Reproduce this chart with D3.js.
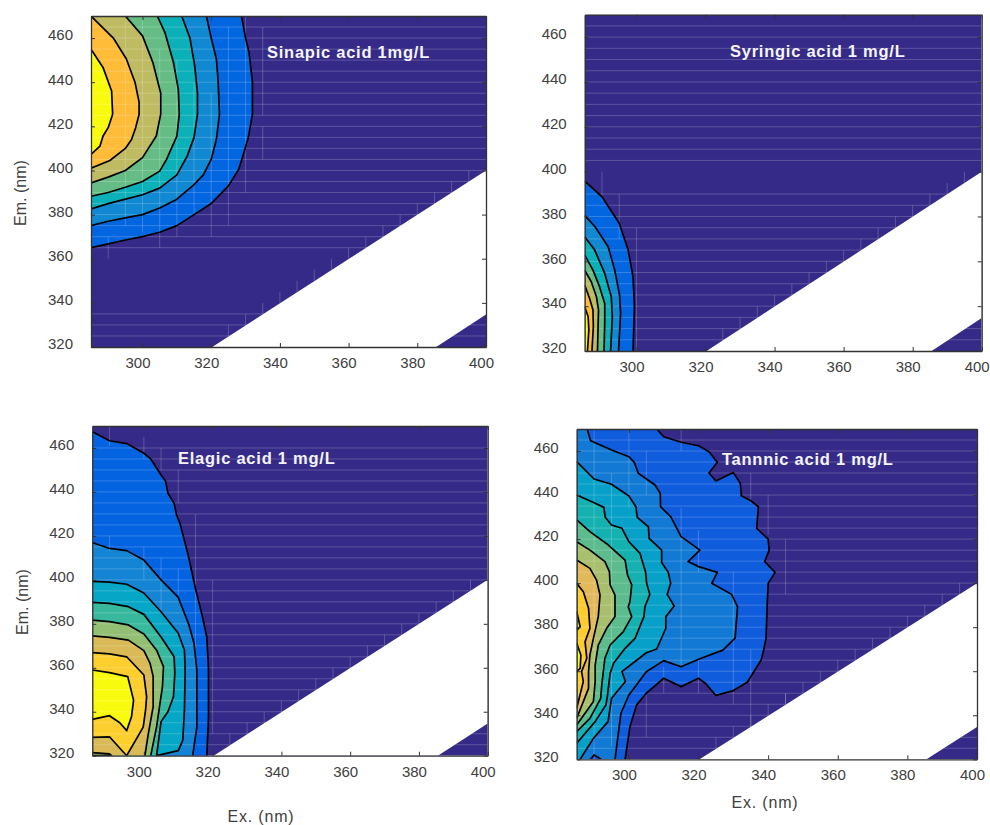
<!DOCTYPE html>
<html lang="en">
<head>
    <meta charset="UTF-8">
    <title>Excitation-emission contour maps</title>
    <style>
        body {
            margin: 0;
            background: #fff;
        }
        text {
            font-family: "Liberation Sans", Arial, sans-serif;
        }
    </style>
</head>
<body>
<script src="https://d3js.org/d3.v7.min.js"></script>
<script>

    var exTicks = [300, 320, 340, 360, 380, 400];
    var emTicks = [320, 340, 360, 380, 400, 420, 440, 460];

    // Rayleigh scatter band left empty in every panel
    var emptyBand = [[320.3, 320], [400, 400], [400, 334.7], [385.5, 320]];
    var stubEx = [325, 330, 335, 340, 345, 350, 355, 360, 365, 370, 375, 380, 385, 390, 395];

    var colors7 = ['#352a87', '#0366e1', '#1188d2', '#0cb0b8', '#65bd85', '#bfbb62', '#ffbc38', '#f9fb0e'];
    var colors8 = ['#352a87', '#0363e1', '#1485d4', '#06a7c6', '#38b99e', '#92bf73', '#d9ba56', '#fcce2e', '#f9fb0e'];
    var colors9 = ['#352a87', '#0f5cdd', '#1279d4', '#06a0c9', '#15b1b0', '#5cbc8e', '#a8bf6e', '#e2b95a', '#ffcc30', '#f9fb0e'];

    // Contour lines as [ex, em], one list per level, outermost first
    var sinapicLevels = [
        [[328.8, 470], [330, 460], [331, 453.5], [332, 440], [332, 425.5], [330.8, 415], [328.9, 405], [328, 400.5], [325, 393], [320, 385], [315, 380], [310, 375], [305, 372], [300, 370], [295, 368.5], [290, 366.7], [285, 365]],
        [[318.6, 470], [320, 460], [321.5, 450.5], [322, 441], [322.4, 425.5], [321.5, 414], [320, 405], [317.7, 398], [315, 393.6], [310, 387], [305, 383], [300, 380], [295, 378.5], [290, 377], [285, 375]],
        [[311.4, 470], [313.8, 460], [315.2, 447.4], [316, 435], [316, 425.5], [315, 415], [313, 406.5], [310, 398], [305, 392], [300, 389], [295, 387], [290, 385], [285, 382.6]],
        [[304.3, 470], [306.5, 462.6], [309, 449], [310.4, 437], [310.7, 425.5], [310, 415.6], [307, 405], [305, 399.7], [300, 395], [295, 392.4], [290, 390], [285, 388.3]],
        [[295, 470], [300, 461], [303, 449], [305.3, 435], [305.3, 425.5], [304, 415.6], [300, 405.8], [295, 400], [290, 397], [285, 394.4]],
        [[285, 470], [291.5, 460], [295.3, 450.5], [297.8, 440], [299, 431], [299, 425.5], [298, 419.4], [296.8, 414], [295, 410], [290.5, 404.5], [285, 401]],
        [[285, 455], [288.5, 446.7], [291, 436], [291.3, 425.5], [290, 419.4], [288.5, 415.6], [287.6, 411], [285, 407.3]]
    ];

    var syringicLevels = [
        [[285, 395.8], [290, 388.8], [295, 377], [297.6, 365], [299, 353], [299.4, 339.8], [299, 320]],
        [[285, 380.5], [288, 375.4], [291.8, 366.5], [293.7, 356.1], [295.1, 345], [295.4, 336.8], [294.8, 320]],
        [[285, 371], [287.9, 365], [290.8, 354.6], [292.7, 344.2], [293, 335.3], [292.5, 320]],
        [[285, 362.8], [287.4, 356.1], [289.3, 348.7], [290.8, 341.2], [290.8, 332.3], [290.6, 320]],
        [[285, 356], [286.9, 350.9], [288.4, 344.2], [289, 338.3], [288.7, 320]],
        [[285, 349.4], [286.4, 343.5], [287.4, 338.3], [287.5, 330.9], [287.1, 320]],
        [[285, 339.7], [286, 335.3], [286.2, 329.4], [285.8, 320]]
    ];

    var elagicLevels = [
        [[285, 467.4], [290, 463.3], [295, 462], [300, 457.6], [302, 455], [305, 447.7], [306.3, 445], [307, 439.4], [308.8, 434.8], [309.5, 429.5], [310.5, 425.7], [313, 410.5], [315, 396], [316.8, 384.8], [318.3, 374], [318.8, 359], [318.8, 337.7], [318.3, 320]],
        [[285, 417], [290, 414.3], [295, 413.3], [300, 409], [305, 400], [310, 392], [313, 380], [314.6, 371], [315.4, 359], [315.4, 333], [314.2, 320]],
        [[285, 399.3], [290, 399], [295, 398], [300, 394], [305, 385.5], [310, 375.7], [311.8, 368], [312, 359], [311.8, 340.8], [311.3, 327], [310, 322.3], [303.7, 320]],
        [[285, 389.8], [290, 389.3], [295.5, 387.8], [300, 384.3], [305, 374], [308.8, 365], [309, 357.5], [308.6, 346.8], [307, 340], [305, 335.5], [303.7, 320]],
        [[285, 381.7], [290, 381], [295.5, 379.5], [300, 375.4], [303.7, 368], [305.7, 360.5], [305.4, 351.4], [303.7, 333.2], [302, 320]],
        [[285, 374.5], [290, 373.8], [295.5, 372.6], [300, 367.8], [301.8, 362], [302.7, 356], [302.7, 342.3], [301.3, 330], [300.3, 320]],
        [[285, 366.9], [290, 366.3], [295, 365], [300, 356.7], [300.8, 346.8], [300.5, 340.8], [299.8, 333], [295, 320], [290, 328.6], [285, 328.3]],
        [[285, 359], [290, 357.8], [295.3, 356], [297, 345.3], [296.4, 337.7], [295, 331.4], [293, 335], [290, 338.2], [285, 336.5]]
    ];
    var elagicCorner = [[285, 321.4], [290, 320.8], [290.6, 320], [285, 320]];

    var tannicLevels = [
        [[308, 470], [310, 466.5], [315, 464], [320, 462.4], [323, 459.7], [325.4, 454.9], [323, 450], [325, 446.4], [330, 450.2], [332, 445.3], [332.3, 439.7], [335, 437.4], [337.2, 434.7], [336.7, 424.9], [340, 420], [340.3, 415], [339, 409.8], [342, 404.9], [340, 399.9], [339.7, 389.3], [339.4, 375], [338.7, 369.6], [338, 365.1], [334, 355], [330, 351.2], [325, 349], [322, 354.5], [320, 356.8], [315, 353], [310, 356.8], [305, 350], [302.2, 344.7], [300.3, 334.8], [298.9, 320]],
        [[288, 470], [289, 464.7], [295, 460.5], [300, 457.4], [301.5, 455], [302.7, 449.9], [307.5, 444.6], [309, 440.8], [309.1, 434.7], [312, 430.2], [315, 421.1], [320.4, 415], [317, 409.8], [320, 407.5], [325.4, 404.9], [323.8, 399.9], [329.5, 394.9], [331.2, 389.3], [330.5, 375], [327, 369.6], [320, 365.4], [315, 362], [310, 364.8], [305, 359.8], [300, 349.2], [297.7, 340.9], [296, 320]],
        [[285, 455.2], [290, 447.3], [295, 444.9], [300, 439.6], [302, 434.7], [302.4, 429.9], [305.6, 425.6], [305.8, 420.3], [309.4, 415], [309.4, 409.4], [311.3, 404.9], [312, 399.9], [311, 394.9], [313, 389.6], [310.6, 384.8], [310.6, 379.5], [308, 370.1], [305, 368.4], [298, 359.8], [299, 355.3], [295, 347.7], [294, 337.1], [289.8, 329.5], [286, 320]],
        [[285, 440], [290, 436.5], [292.8, 434.4], [293.2, 429.9], [295, 426.4], [298, 424.9], [300, 418.8], [303.2, 413.5], [304.8, 404.9], [305.1, 399.9], [306, 394.9], [304.6, 389.3], [304.3, 384.8], [301.8, 375], [298.9, 370.4], [295.6, 363.6], [294.6, 359], [293.8, 348.5], [293.4, 344.7], [290.3, 337.1], [285, 327.3]],
        [[285, 428.7], [288.8, 423.4], [294.1, 417.3], [298.9, 410.5], [299.6, 403.7], [300.8, 399.2], [300.3, 391.6], [299.8, 389.3], [300.8, 384.8], [298.4, 378], [294.6, 371.9], [293.1, 365.9], [292.2, 353.8], [291.9, 347.7], [288.8, 338.6], [285, 332.6]],
        [[285, 418.8], [288.8, 415], [293.1, 409.8], [294.4, 405.2], [294.6, 399.2], [296, 394.6], [296, 384.8], [293.6, 379.5], [291.2, 371.9], [290.3, 362.8], [290.3, 355.3], [289.8, 346.2], [285, 335.6]],
        [[285, 410.5], [288.8, 406.7], [290.7, 401.4], [291.7, 394.6], [291.2, 384.8], [289.8, 374.9], [288.8, 367.4], [288.4, 359.8], [288.4, 352.2], [285, 338.6]],
        [[285, 399.9], [286.9, 396.1], [288.4, 388.6], [288.8, 379.5], [287.4, 373.4], [287.9, 365.9], [286.4, 359.8], [286.9, 355.3], [285, 343.2]]
    ];
    var tannicPeakA = [[285, 387], [286, 380.2], [285, 378.7]];
    var tannicPeakB = [[285, 372.7], [286.2, 367.4], [286, 361.3], [285, 359.8]];
    var tannicLobe = [[289, 320], [290, 322], [292, 320]];

    // Faint mesh lines that show through the fills
    var sinapicEmLines = [465, 460, 455, 450, 445, 440, 435, 430, 425, 420, 415, 410, 405, 400, 395, 390, 385, 380, 375, 370, 365, 335, 330, 325];
    var syringicEmLines = [465, 460, 455, 450, 445, 440, 435, 430, 425, 420, 415, 410, 405, 390, 385, 380, 375, 370, 365, 360, 355, 350, 345, 340, 335, 330, 325];
    var elagicEmLines = [460, 455, 450, 445, 440, 435, 430, 425, 420, 415, 410, 405, 400, 395, 390, 385, 380, 375, 370, 365, 360, 355, 350, 345, 340, 335, 330, 325];
    var tannicEmLines = [465, 460, 455, 450, 445, 440, 435, 430, 425, 420, 415, 410, 405, 400, 395, 390, 385, 380, 375, 370, 365, 360, 355, 350, 345, 340, 335, 330, 325];

    var sinapicExLines = [[290, 360, 370], [295, 375, 468], [300, 372, 468], [305, 365, 455], [310, 370, 450], [315, 380, 440], [320, 370, 435], [325, 375, 465], [330, 390, 470], [335, 405, 420], [335, 425, 465]];
    var syringicExLines = [[290, 387, 400], [295, 370, 390], [300, 320, 375]];
    var elagicExLines = [[290, 413, 420], [290, 461, 470], [300, 400, 415], [300, 455, 465], [305, 450, 460], [305, 385, 410], [310, 435, 450], [310, 393, 405], [315, 360, 430], [320, 330, 400]];
    var tannicExLines = [[290, 320, 470], [295, 326, 450], [300, 434, 470], [305, 440, 460], [305, 330, 350], [310, 350, 362], [315, 362, 434], [315, 460, 470], [320, 405, 424], [320, 350, 365], [330, 345, 405], [335, 436, 450], [335, 330, 370], [340, 422, 440], [345, 395, 420], [345, 345, 350]];

    var panels = [
        {
            name: 'Sinapic acid 1mg/L', box: [91, 486, 16, 347], titleAt: [267, 58], colors: colors7,
            levels: sinapicLevels, corners: [[285, 470]], emLines: sinapicEmLines, exLines: sinapicExLines,
            extras: [], emLabel: [20, 193], exLabel: null
        },
        {
            name: 'Syringic acid 1 mg/L', box: [584.7, 981.7, 14.7, 351], titleAt: [730, 57], colors: colors7,
            levels: syringicLevels, corners: [[285, 320]], emLines: syringicEmLines, exLines: syringicExLines,
            extras: [], emLabel: null, exLabel: null
        },
        {
            name: 'Elagic acid 1 mg/L', box: [92.3, 487.7, 426, 755.7], titleAt: [178, 464], colors: colors8,
            levels: elagicLevels, corners: [[285, 320]], emLines: elagicEmLines, exLines: elagicExLines,
            extras: [{points: elagicCorner, color: 5}], emLabel: [22, 602], exLabel: [261, 822]
        },
        {
            name: 'Tannnic acid 1 mg/L', box: [576.7, 977, 429, 759.3], titleAt: [722, 465], colors: colors9,
            levels: tannicLevels, corners: [[285, 320], [285, 470]], emLines: tannicEmLines, exLines: tannicExLines,
            extras: [{points: tannicPeakA, color: 9}, {points: tannicPeakB, color: 9}, {points: tannicLobe, color: 1}],
            emLabel: null, exLabel: [765, 808]
        }
    ];

    var svg = d3.select('body').append('svg')
        .attr('width', 990)
        .attr('height', 825)
        .style('display', 'block');

    var defs = svg.append('defs');

    panels.forEach(function (p, idx) {
        var x = d3.scaleLinear().domain([285, 400]).range([p.box[0], p.box[1]]);
        var y = d3.scaleLinear().domain([320, 470]).range([p.box[3], p.box[2]]);

        var line = d3.line()
            .x(d => x(d[0]))
            .y(d => y(d[1]));

        defs.append('clipPath')
            .attr('id', 'clip-' + idx)
            .append('rect')
            .attr('x', x(285))
            .attr('y', y(470))
            .attr('width', x(400) - x(285))
            .attr('height', y(320) - y(470));

        var g = svg.append('g')
            .attr('clip-path', 'url(#clip-' + idx + ')');

        g.append('rect')
            .attr('x', x(285))
            .attr('y', y(470))
            .attr('width', x(400) - x(285))
            .attr('height', y(320) - y(470))
            .attr('fill', p.colors[0]);

        g.selectAll('.fill')
            .data(p.levels)
            .enter()
            .append('path')
            .attr('class', 'fill')
            .attr('fill', (d, i) => p.colors[i + 1])
            .attr('d', d => line(d.concat(p.corners)) + 'Z');

        g.selectAll('.extra')
            .data(p.extras)
            .enter()
            .append('path')
            .attr('class', 'extra')
            .attr('fill', d => p.colors[d.color])
            .attr('d', d => line(d.points) + 'Z');

        var mesh = g.append('g')
            .attr('stroke', '#fff')
            .attr('stroke-opacity', 0.2)
            .attr('stroke-width', 1);

        mesh.selectAll('.em-line')
            .data(p.emLines)
            .enter()
            .append('line')
            .attr('x1', x(285))
            .attr('x2', x(400))
            .attr('y1', d => y(d))
            .attr('y2', d => y(d));

        mesh.selectAll('.ex-line')
            .data(p.exLines)
            .enter()
            .append('line')
            .attr('x1', d => x(d[0]))
            .attr('x2', d => x(d[0]))
            .attr('y1', d => y(d[1]))
            .attr('y2', d => y(d[2]));

        mesh.selectAll('.stub')
            .data(stubEx)
            .enter()
            .append('line')
            .attr('x1', d => x(d))
            .attr('x2', d => x(d))
            .attr('y1', d => y(d))
            .attr('y2', d => y(d + 5));

        g.selectAll('.contour')
            .data(p.levels.concat(p.extras.map(e => e.points)))
            .enter()
            .append('path')
            .attr('class', 'contour')
            .attr('fill', 'none')
            .attr('stroke', '#000')
            .attr('stroke-width', 1.7)
            .attr('stroke-linejoin', 'round')
            .attr('d', line);

        g.append('path')
            .attr('fill', '#fff')
            .attr('d', line(emptyBand) + 'Z');

        g.append('text')
            .attr('x', p.titleAt[0])
            .attr('y', p.titleAt[1])
            .attr('fill', '#f4f4fa')
            .attr('font-size', 16.5)
            .attr('font-weight', 'bold')
            .attr('letter-spacing', 0.75)
            .text(p.name);

        // MATLAB style box: inward ticks on all four sides
        [
            [d3.axisBottom(x).tickValues(exTicks), p.box[3]],
            [d3.axisTop(x).tickValues(exTicks), p.box[2]]
        ].forEach(function (a, i) {
            var ax = svg.append('g')
                .attr('transform', 'translate(0,' + a[1] + ')')
                .call(a[0].tickSizeInner(-4).tickSizeOuter(0).tickPadding(0));
            ax.selectAll('line').attr('stroke', '#333');
            ax.select('.domain').attr('stroke', '#333').attr('stroke-width', 1.3);
            if (i === 0) {
                ax.selectAll('text')
                    .attr('y', 0)
                    .attr('dy', 21)
                    .attr('dx', -5)
                    .attr('fill', '#404040')
                    .attr('font-size', 15)
                    .attr('font-family', null);
            } else {
                ax.selectAll('text').remove();
            }
        });

        [
            [d3.axisLeft(y).tickValues(emTicks), p.box[0]],
            [d3.axisRight(y).tickValues(emTicks), p.box[1]]
        ].forEach(function (a, i) {
            var ax = svg.append('g')
                .attr('transform', 'translate(' + a[1] + ',0)')
                .call(a[0].tickSizeInner(-4).tickSizeOuter(0).tickPadding(0));
            ax.selectAll('line').attr('stroke', '#333');
            ax.select('.domain').attr('stroke', '#333').attr('stroke-width', 1.3);
            if (i === 0) {
                ax.selectAll('text')
                    .attr('x', -18)
                    .attr('dy', '0.12em')
                    .attr('fill', '#404040')
                    .attr('font-size', 15)
                    .attr('font-family', null);
            } else {
                ax.selectAll('text').remove();
            }
        });

        if (p.emLabel) {
            svg.append('text')
                .attr('transform', 'translate(' + p.emLabel[0] + ',' + p.emLabel[1] + ') rotate(-90)')
                .attr('dy', '0.35em')
                .attr('text-anchor', 'middle')
                .attr('fill', '#404040')
                .attr('font-size', 16)
                .text('Em. (nm)');
        }
        if (p.exLabel) {
            svg.append('text')
                .attr('x', p.exLabel[0])
                .attr('y', p.exLabel[1])
                .attr('text-anchor', 'middle')
                .attr('fill', '#404040')
                .attr('font-size', 16)
                .attr('letter-spacing', 0.8)
                .text('Ex. (nm)');
        }
    });
</script>
</body>
</html>
